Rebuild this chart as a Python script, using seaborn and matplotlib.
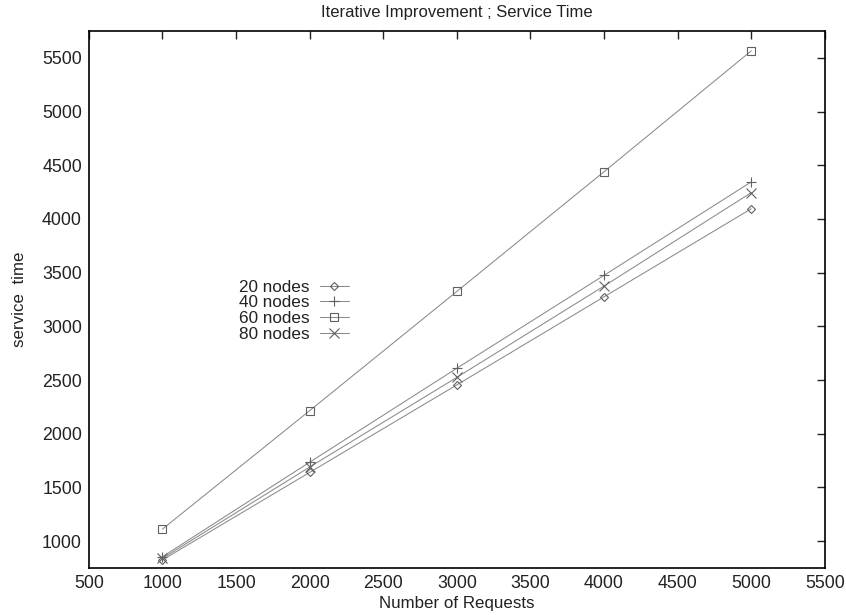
import matplotlib
matplotlib.use("Agg")
import matplotlib.pyplot as plt
import seaborn as sns
import pandas as pd

requests = [1000, 2000, 3000, 4000, 5000]
nodes20 = [825, 1640, 2455, 3275, 4095]
nodes40 = [855, 1735, 2610, 3475, 4345]
nodes60 = [1112, 2215, 3325, 4440, 5565]
nodes80 = [840, 1690, 2525, 3375, 4245]

series_names = ["20 nodes", "40 nodes", "60 nodes", "80 nodes"]
series_values = [nodes20, nodes40, nodes60, nodes80]
markers = ["D", "+", "s", "x"]
msizes = [4.5, 7, 5.5, 6.5]

sns.set_theme(style="white")
plt.rcParams['font.family'] = ['Liberation Sans', 'DejaVu Sans']

fig = plt.figure(figsize=(8.46, 6.15), dpi=100)
ax = fig.add_axes([0.105, 0.0764, 0.870, 0.8732])

for name, vals, m, ms in zip(series_names, series_values, markers, msizes):
    df = pd.DataFrame({"Number of Requests": requests, "service time": vals})
    sns.lineplot(data=df, x="Number of Requests", y="service time", ax=ax,
                 color="#8a8a8a", linewidth=0.75, marker=m, markersize=ms,
                 markerfacecolor="none", markeredgecolor="#606060",
                 markeredgewidth=0.8, label=name)

ax.set_xlim(500, 5500)
ax.set_ylim(750, 5750)
ax.set_xticks(range(500, 5501, 500))
ax.set_yticks(range(1000, 5501, 500))
ax.tick_params(direction="in", length=6, width=1.0, top=True, right=True,
               labelsize=12.8, colors="#222222", pad=5)
for s in ax.spines.values():
    s.set_color("black")
    s.set_linewidth(1.2)
    s.set_visible(True)

ax.set_title("Iterative Improvement ; Service Time", fontsize=12, pad=10,
             color="#222222")
ax.set_xlabel("Number of Requests", fontsize=12.2, labelpad=3, color="#222222")
ax.set_ylabel("service  time", fontsize=12.2, labelpad=11, color="#222222")

leg = ax.legend(loc="upper right", bbox_to_anchor=(0.365, 0.553), frameon=False,
                markerfirst=False, fontsize=12.3, handlelength=1.7,
                labelspacing=0.05, handletextpad=0.6, borderpad=0)
for t in leg.get_texts():
    t.set_color("#222222")

fig.savefig("out.png", dpi=100)
